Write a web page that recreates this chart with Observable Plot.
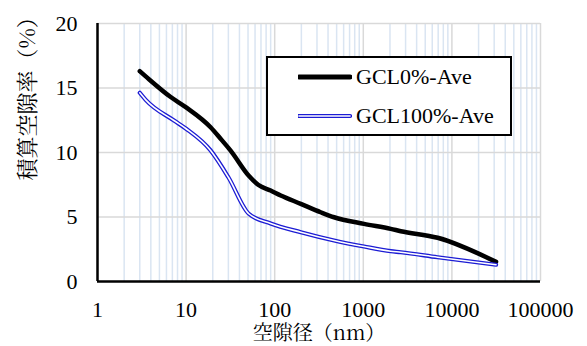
<!DOCTYPE html>
<html>
<head>
<meta charset="utf-8">
<script src="https://cdn.jsdelivr.net/npm/d3@7"></script>
<script src="https://cdn.jsdelivr.net/npm/@observablehq/plot@0.6"></script>
<style>
  html, body { margin: 0; padding: 0; background: #fff; font-family: "Liberation Serif", serif; }
  #wrap { position: relative; width: 587px; height: 346px; }
  .legend {
    position: absolute; left: 266px; top: 56px; width: 242px; height: 76px;
    border: 2px solid #000; background: #fff; color: #000;
  }
  .lrow { position: absolute; left: 30px; height: 26px; display: flex; align-items: center; font-family: "Liberation Serif", serif; font-size: 22px; }
  .lrow svg { display: block; }
</style>
</head>
<body>
<div id="wrap"></div>
<script>
// ---- data ----
const seriesNames = ["GCL0%-Ave", "GCL100%-Ave"];
const gcl0X = [3, 3.5, 6.7, 10, 18.9, 25, 31.8, 51, 65, 90, 117, 197, 330, 468, 1020, 2040, 2650, 6900, 31500];
const gcl0Y = [16.3, 15.9, 14.3, 13.5, 11.96, 11.0, 10.15, 8.2, 7.5, 7.05, 6.67, 6.02, 5.37, 4.98, 4.47, 4.08, 3.9, 3.39, 1.52];
const gcl100X = [3, 3.5, 7.3, 10, 18.9, 30, 51, 90, 197, 468, 1020, 2040, 2650, 6900, 31500];
const gcl100Y = [14.63, 14.08, 12.48, 11.84, 10.16, 8.08, 5.25, 4.5, 3.82, 3.18, 2.71, 2.35, 2.27, 1.88, 1.3];
const xTicks = [1, 10, 100, 1000, 10000, 100000];
const yTicks = [0, 5, 10, 15, 20];
const xLabel = "空隙径（nm）";
const yLabel = "積算空隙率（%）";

const gcl0 = gcl0X.map((x, i) => ({x, y: gcl0Y[i]}));
const gcl100 = gcl100X.map((x, i) => ({x, y: gcl100Y[i]}));
const minorX = [];
for (let d = 1; d < 100000; d *= 10) for (let k = 2; k <= 9; k++) minorX.push(d * k);

const BLACK = "#000000", BLUE = "#1c1cd4";
const LATIN = "'Liberation Serif', serif";
const CJK = "'Noto Serif CJK JP', serif";

const chart = Plot.plot({
  width: 587, height: 346,
  marginLeft: 97, marginRight: 47, marginTop: 23, marginBottom: 65,
  style: {fontFamily: LATIN, fontSize: "22px", color: "#000", background: "#fff", overflow: "visible"},
  x: {type: "log", domain: [1, 100000], label: null},
  y: {domain: [0, 20], label: null},
  marks: [
    Plot.ruleX(minorX, {stroke: "#dae5f2", strokeWidth: 1.5}),
    Plot.ruleX(xTicks, {stroke: "#d9d9d9", strokeWidth: 1.5}),
    Plot.ruleY(yTicks.slice(1), {stroke: "#d9d9d9", strokeWidth: 1.5}),
    Plot.line(gcl0, {x: "x", y: "y", stroke: BLACK, strokeWidth: 4.5, curve: "monotone-x"}),
    Plot.line(gcl100, {x: "x", y: "y", stroke: BLUE, strokeWidth: 4.2, curve: "monotone-x"}),
    Plot.line(gcl100, {x: "x", y: "y", stroke: "#fff", strokeWidth: 1.6, curve: "monotone-x"}),
    Plot.ruleX([1], {stroke: BLACK, strokeWidth: 2.5}),
    Plot.ruleY([0], {stroke: BLACK, strokeWidth: 2.5}),
    Plot.axisX({ticks: xTicks, tickFormat: d => String(d), tickSize: 0, tickPadding: 20, label: null, fontSize: 22, fontFamily: LATIN}),
    Plot.axisY({ticks: yTicks, tickSize: 0, tickPadding: 20, label: null, fontSize: 22, fontFamily: LATIN}),
    Plot.text([xLabel], {frameAnchor: "bottom", dy: 52, fontSize: 20, fontFamily: CJK, fill: "#000", lineAnchor: "middle"}),
    Plot.text([yLabel], {frameAnchor: "left", dx: -70, dy: 28, rotate: -90, fontSize: 22, fontFamily: CJK, fill: "#000", lineAnchor: "middle"})
  ]
});

const wrap = document.getElementById("wrap");
wrap.appendChild(chart);

// legend (inside plot area)
const legend = document.createElement("div");
legend.className = "legend";
const rowTops = [6, 45];
seriesNames.forEach((name, i) => {
  const row = document.createElement("div");
  row.className = "lrow";
  row.style.top = rowTops[i] + "px";
  const sw = d3.create("svg").attr("width", 54).attr("height", 26);
  if (i === 0) {
    sw.append("line").attr("x1", 1).attr("x2", 52).attr("y1", 13).attr("y2", 13)
      .attr("stroke", BLACK).attr("stroke-width", 5).attr("stroke-linecap", "round");
  } else {
    sw.append("line").attr("x1", 1).attr("x2", 52).attr("y1", 13).attr("y2", 13)
      .attr("stroke", BLUE).attr("stroke-width", 4.2).attr("stroke-linecap", "round");
    sw.append("line").attr("x1", 1).attr("x2", 52).attr("y1", 13).attr("y2", 13)
      .attr("stroke", "#fff").attr("stroke-width", 1.6).attr("stroke-linecap", "round");
  }
  row.appendChild(sw.node());
  const t = document.createElement("span");
  t.textContent = name;
  t.style.marginLeft = "4px";
  t.style.fontFamily = LATIN;
  row.appendChild(t);
  legend.appendChild(row);
});
wrap.appendChild(legend);
</script>
</body>
</html>
